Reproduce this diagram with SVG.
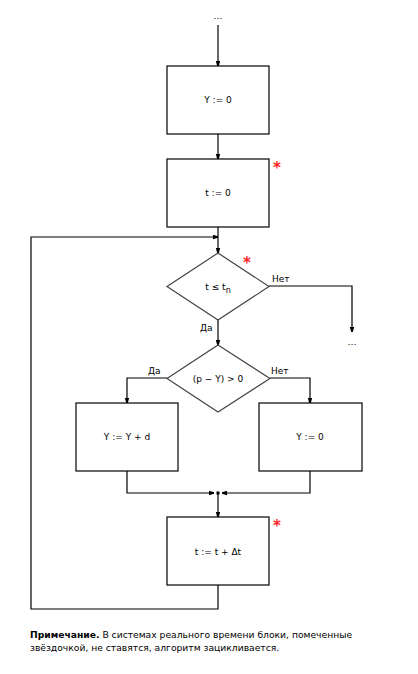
<svg xmlns="http://www.w3.org/2000/svg" width="418" height="674" viewBox="0 0 418 674">
<style>
.b{fill:#fff;stroke:#000;stroke-width:1.2}
.d{fill:#fff;stroke:#444;stroke-width:1.2}
.c{fill:none;stroke:#000;stroke-width:1.2}
text{font-family:"DejaVu Sans",Verdana,sans-serif;font-size:9px;fill:#000}
.m{text-anchor:middle}
.s{fill:#f22;font-size:15px;font-weight:bold}
.n{font-size:9.2px}
</style>
<defs>
<marker id="a" markerWidth="6" markerHeight="6" refX="5" refY="3" orient="auto" markerUnits="userSpaceOnUse">
<path d="M0,0.8 L5,2.2 L5,3.8 L0,5.2 Z" fill="#000"/>
</marker>
</defs>
<g id="connectors">
<path class="c" d="M218,25 V66" marker-end="url(#a)"/>
<path class="c" d="M218,134 V159" marker-end="url(#a)"/>
<path class="c" d="M218,227 V253" marker-end="url(#a)"/>
<path class="c" d="M218,585 V609 H31 V237 H218" marker-end="url(#a)"/>
<path class="c" d="M269,286 H352 V332" marker-end="url(#a)"/>
<path class="c" d="M218,320 V345" marker-end="url(#a)"/>
<path class="c" d="M167,378 H127 V403" marker-end="url(#a)"/>
<path class="c" d="M270,378 H310 V403" marker-end="url(#a)"/>
<path class="c" d="M127,471 V493 H214" marker-end="url(#a)"/>
<path class="c" d="M310,471 V493 H222" marker-end="url(#a)"/>
<path class="c" d="M218,493 V517" marker-end="url(#a)"/>
<rect x="216.5" y="491.5" width="3" height="3" fill="#000"/>
</g>
<g id="start"><text class="m" x="218" y="19">…</text></g>
<g id="y0"><rect class="b" x="167" y="66" width="102" height="68"/><text class="m" x="218" y="103">Y := 0</text></g>
<g id="t0"><rect class="b" x="167" y="159" width="102" height="68"/><text class="m" x="218" y="196">t := 0</text><text class="s" x="277" y="173" text-anchor="middle">*</text></g>
<g id="cond1"><path class="d" d="M218,253 L269,286.5 L218,320 L167,286.5 Z"/><text class="m" x="218" y="290">t ≤ t<tspan font-size="8" dy="3">n</tspan></text><text class="s" x="247" y="268" text-anchor="middle">*</text>
<text x="272" y="282">Нет</text><text x="200" y="331">Да</text></g>
<g id="end"><text class="m" x="352" y="345">…</text></g>
<g id="cond2"><path class="d" d="M218,345 L270,378.5 L218,412 L167,378.5 Z"/><text class="m" x="218" y="382">(p − Y) &gt; 0</text>
<text x="148" y="374">Да</text><text x="271" y="374">Нет</text></g>
<g id="yd"><rect class="b" x="76" y="403" width="102" height="68"/><text class="m" x="127" y="440">Y := Y + d</text></g>
<g id="yz"><rect class="b" x="259" y="403" width="103" height="68"/><text class="m" x="310" y="440">Y := 0</text></g>
<g id="tdt"><rect class="b" x="167" y="517" width="102" height="68"/><text class="m" x="218" y="555">t := t + Δt</text><text class="s" x="277" y="531" text-anchor="middle">*</text></g>
<g id="note"><text class="n" x="30" y="638"><tspan font-weight="bold">Примечание.</tspan> В системах реального времени блоки, помеченные</text>
<text class="n" x="30" y="651">звёздочкой, не ставятся, алгоритм зацикливается.</text></g>
</svg>
